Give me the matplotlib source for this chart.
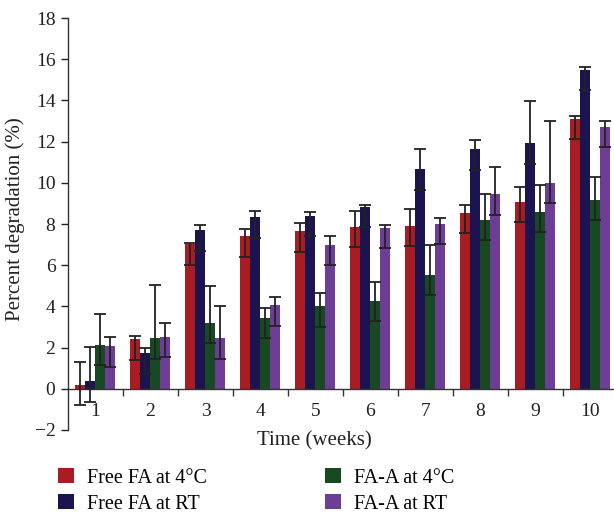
import matplotlib

matplotlib.use("Agg")
import matplotlib.pyplot as plt
import numpy as np

weeks = [1, 2, 3, 4, 5, 6, 7, 8, 9, 10]
series = ["Free FA at 4°C", "Free FA at RT", "FA-A at 4°C", "FA-A at RT"]
colors = ["#a81c24", "#1c1450", "#174a22", "#6e3d96"]

# bar heights (percent degradation)
free_4c = [0.19, 2.43, 7.05, 7.43, 7.67, 7.86, 7.91, 8.54, 9.08, 13.11]
free_rt = [0.39, 1.75, 7.72, 8.35, 8.40, 8.83, 10.68, 11.65, 11.94, 15.49]
faa_4c = [2.14, 2.48, 3.19, 3.45, 4.03, 4.27, 5.53, 8.20, 8.59, 9.17]
faa_rt = [2.09, 2.52, 2.48, 4.08, 6.99, 7.82, 8.01, 9.47, 10.00, 12.72]

# error bar ends (lower / upper cap)
free_4c_lo = [-0.78, 1.42, 6.03, 6.41, 6.65, 6.86, 6.91, 7.54, 8.11, 12.15]
free_4c_hi = [1.28, 2.54, 7.07, 7.78, 8.03, 8.64, 8.72, 8.90, 9.82, 13.24]
free_rt_lo = [-0.62, 0.73, 6.71, 7.33, 7.41, 7.86, 9.66, 10.63, 10.92, 14.50]
free_rt_hi = [2.04, 2.00, 7.93, 8.61, 8.56, 8.90, 11.62, 12.10, 13.98, 15.60]
faa_4c_lo = [1.17, 1.46, 2.22, 2.49, 3.02, 3.28, 4.53, 7.22, 7.59, 8.17]
faa_4c_hi = [3.61, 5.05, 4.97, 3.90, 4.63, 5.19, 6.99, 9.48, 9.90, 10.28]
faa_rt_lo = [1.08, 1.54, 1.47, 3.06, 6.02, 6.83, 7.02, 8.46, 9.03, 11.75]
faa_rt_hi = [2.51, 3.19, 4.03, 4.47, 7.44, 7.96, 8.27, 10.79, 12.98, 13.02]

FONT = ["Liberation Serif", "DejaVu Serif"]
plt.rcParams["font.family"] = FONT
plt.rcParams["font.size"] = 14

values = [free_4c, free_rt, faa_4c, faa_rt]
lows = [free_4c_lo, free_rt_lo, faa_4c_lo, faa_rt_lo]
highs = [free_4c_hi, free_rt_hi, faa_4c_hi, faa_rt_hi]

fig = plt.figure(figsize=(6.14, 5.13), dpi=100)
ax = fig.add_axes([0.1107, 0.1618, 0.8893, 0.8031])

x = np.array(weeks, dtype=float)
width = 0.182
handles = []
for i, (vals, lo, hi, col, name) in enumerate(zip(values, lows, highs, colors, series)):
    vals = np.array(vals)
    yerr = [vals - np.array(lo), np.array(hi) - vals]
    pos = x + (i - 1.5) * width
    b = ax.bar(pos, vals, width, color=col, label=name, zorder=2)
    ax.errorbar(pos, vals, yerr=yerr, fmt="none", ecolor="#222222",
                elinewidth=1.3, capsize=4, capthick=1.3, zorder=3)
    handles.append(b)

ax.set_xlim(0.5, 10.43)
ax.set_ylim(-2, 18)
ax.set_yticks(range(-2, 19, 2))
ax.set_xticks(weeks)
ax.set_xticks(np.arange(1.5, 10.5, 1), minor=True)
ax.tick_params(axis="x", which="major", length=0, pad=10, labelsize=14,
               colors="#222222")
ax.tick_params(axis="x", which="minor", length=5, width=1, direction="out",
               color="#333333")
ax.tick_params(axis="y", length=5, width=1, pad=4, labelsize=14,
               colors="#222222")

for side in ("top", "right"):
    ax.spines[side].set_visible(False)
ax.spines["bottom"].set_position(("data", 0))
for side in ("left", "bottom"):
    ax.spines[side].set_color("#333333")
    ax.spines[side].set_linewidth(1.0)

ax.set_xlabel("Time (weeks)", fontsize=15, va="center", color="#222222")
ax.xaxis.set_label_coords(0.452, -0.026)
ax.set_ylabel("Percent degradation (%)", fontsize=15, va="center",
              color="#222222")
ax.yaxis.set_label_coords(-0.097, 0.512)

fig.legend(handles=handles, loc="upper left", bbox_to_anchor=(0.095, 0.088),
           ncol=2, frameon=False, fontsize=14.5, handlelength=0.8,
           handleheight=0.8, handletextpad=0.6, columnspacing=5.9,
           labelspacing=0.32, borderaxespad=0, borderpad=0)

fig.savefig("out.png", dpi=100)
